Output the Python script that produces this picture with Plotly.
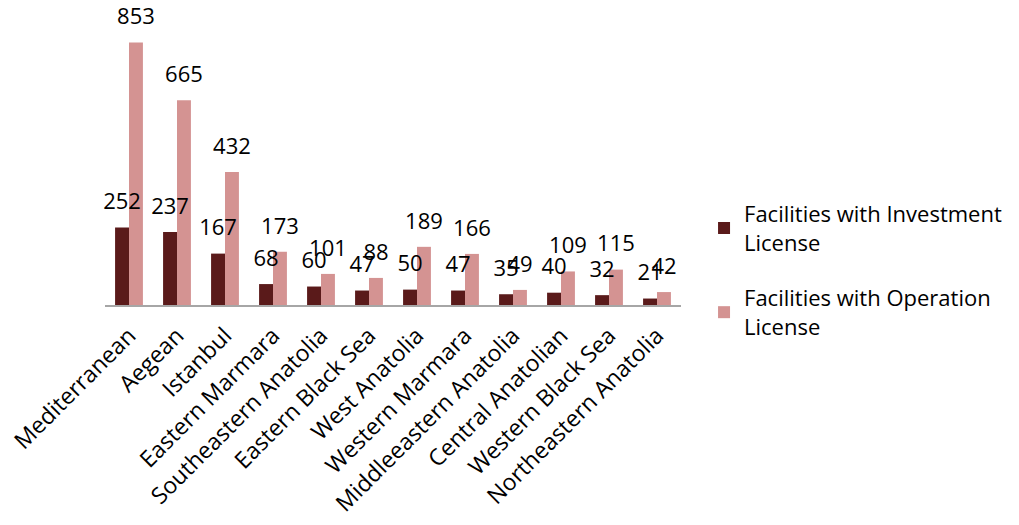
import plotly.graph_objects as go

regions = ["Mediterranean", "Aegean", "Istanbul", "Eastern Marmara", "Southeastern Anatolia",
           "Eastern Black Sea", "West Anatolia", "Western Marmara", "Middleeastern Anatolia",
           "Central Anatolian", "Western Black Sea", "Northeastern Anatolia"]
investment = [252, 237, 167, 68, 60, 47, 50, 47, 35, 40, 32, 21]
operation = [853, 665, 432, 173, 101, 88, 189, 166, 49, 109, 115, 42]

FONT = "Open Sans"
DARK = "#5a1a1a"
PINK = "#d49392"
LABEL_PAD = 30  # extra space (in axis units) between bar top and its label

fig = go.Figure()
fig.add_trace(go.Bar(
    x=regions, y=investment, name="Facilities with Investment<br>License",
    marker=dict(color=DARK, line=dict(width=0)), offsetgroup="inv", legendgroup="inv",
))
fig.add_trace(go.Bar(
    x=regions, y=operation, name="Facilities with Operation<br>License",
    marker=dict(color=PINK, line=dict(width=0)), offsetgroup="op", legendgroup="op",
))
# transparent overlays carrying the data labels, drawn on top of all bars
for vals, grp in [(investment, "inv"), (operation, "op")]:
    fig.add_trace(go.Bar(
        x=regions, y=vals, base=LABEL_PAD, offsetgroup=grp, showlegend=False, hoverinfo="skip",
        marker=dict(color="rgba(0,0,0,0)", line=dict(width=0)),
        text=vals, textposition="outside", constraintext="none", cliponaxis=False,
        textfont=dict(family=FONT, size=22, color="black"),
    ))

fig.update_layout(
    width=1019, height=525,
    margin=dict(l=105, r=338, t=28, b=220, autoexpand=False),
    paper_bgcolor="white", plot_bgcolor="white",
    barmode="group", bargap=0.42, bargroupgap=0,
    font=dict(family=FONT, size=22, color="black"),
    showlegend=True,
    legend=dict(x=1.04, xanchor="left", y=0.125, yanchor="middle",
                font=dict(family=FONT, size=22, color="black"),
                tracegroupgap=24, itemwidth=30),
    xaxis=dict(showline=True, linecolor="#a6a6a6", linewidth=2, ticks="",
               tickangle=-45, tickfont=dict(family=FONT, size=23, color="black"),
               ticklabelstandoff=6,
               showgrid=False, zeroline=False, automargin=False),
    yaxis=dict(range=[0, 900], visible=False, showgrid=False, zeroline=False),
)

fig.write_html("out.html")
